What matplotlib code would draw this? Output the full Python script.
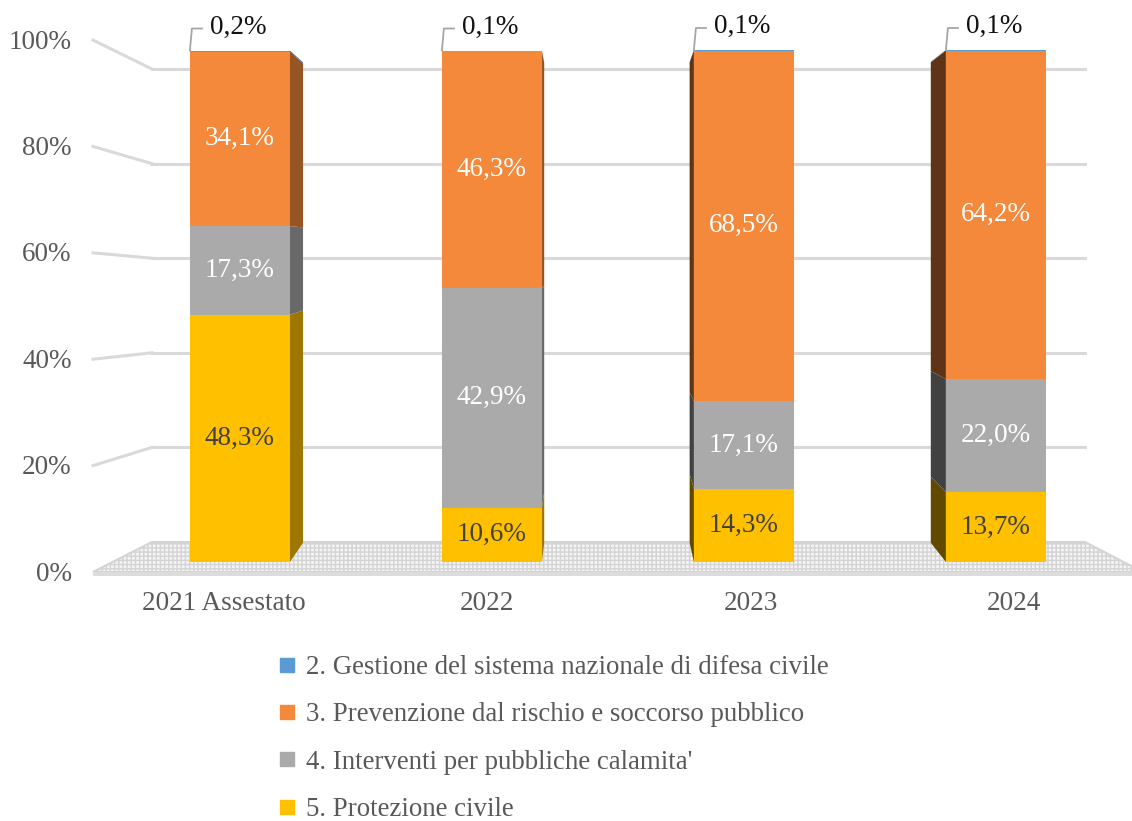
import matplotlib.pyplot as plt
from matplotlib.patches import Polygon
from matplotlib.lines import Line2D
import matplotlib.colors as mcolors
import numpy as np

plt.rcParams['font.family'] = ['Liberation Serif', 'DejaVu Serif']

categories = ['2021 Assestato', '2022', '2023', '2024']
series = ["2. Gestione del sistema nazionale di difesa civile",
          "3. Prevenzione dal rischio e soccorso pubblico",
          "4. Interventi per pubbliche calamita'",
          "5. Protezione civile"]
gestione = [0.2, 0.1, 0.1, 0.1]
prevenzione = [34.1, 46.3, 68.5, 64.2]
interventi = [17.3, 42.9, 17.1, 22.0]
protezione = [48.3, 10.6, 14.3, 13.7]
yticks = [0, 20, 40, 60, 80, 100]

colors = ['#5b9bd5', '#f4883b', '#aaaaaa', '#ffc000']
text_cols = [None, 'white', 'white', '#404040']

# fake perspective (data units of the front plane)
VX, KX = 1.4075, 0.957
VY, KY = 61.7, 0.939
WALL_X = (-0.349, 3.353)
EDGE_X = (-0.583, 3.583)
W = 0.397


def wall(g):
    return 3.906 + 0.9238 * g


def edge(g):
    return -1.953 + 1.039 * g


def back(x, y):
    return VX + KX * (x - VX), VY + KY * (y - VY)


fig = plt.figure(figsize=(11.32, 8.21), dpi=100)
ax = fig.add_axes([0, 0, 1, 1])
ax.set_xlim(-0.952, 3.540)
ax.set_ylim(-50.59, 109.77)
ax.axis('off')

# floor
floor = Polygon([(EDGE_X[0], edge(0)), (EDGE_X[1], edge(0)),
                 (WALL_X[1], wall(0)), (WALL_X[0], wall(0))],
                closed=True, facecolor='#f4f4f4', edgecolor='#d4d4d4',
                hatch='++++', lw=1.5, zorder=1)
ax.add_patch(floor)
ax.fill_between(EDGE_X, edge(0) - 0.7, edge(0), color='#dcdcdc', lw=0, zorder=1)

# gridlines on the wall and the left side
for g in yticks[1:]:
    ax.plot(WALL_X, [wall(g)] * 2, color='#d9d9d9', lw=2.2, zorder=0.5)
    ax.plot([EDGE_X[0], WALL_X[0]], [edge(g), wall(g)], color='#d9d9d9', lw=2.2, zorder=0.5)
for g in yticks:
    ax.text(-0.668, edge(g) - 0.4, f'{g}%', ha='right', va='center',
            fontsize=19.5, color='#595959')

x = np.arange(len(categories))
order = [protezione, interventi, prevenzione, gestione]
cols = [colors[3], colors[2], colors[1], colors[0]]
tcols = [text_cols[3], text_cols[2], text_cols[1], None]
bottom = np.zeros(len(categories))
for vals, c, tc in zip(order, cols, tcols):
    vals = np.array(vals)
    ax.bar(x, vals, W, bottom=bottom, color=c, lw=0, zorder=3)
    for i in range(len(categories)):
        xc = x[i]
        left_side = xc > VX
        xe = xc - W / 2 if left_side else xc + W / 2
        y0, y1 = bottom[i], bottom[i] + vals[i]
        bx0, by0 = back(xe, y0)
        bx1, by1 = back(xe, y1)
        f = 0.38 if left_side else 0.62
        dark = tuple(np.array(mcolors.to_rgb(c)) * f)
        ax.add_patch(Polygon([(xe, y0), (xe, y1), (bx1, by1), (bx0, by0)],
                             closed=True, facecolor=dark, lw=0, zorder=2))
        if tc is not None:
            ax.text(xc, y0 + vals[i] / 2, f'{vals[i]:.1f}%'.replace('.', ','),
                    ha='center', va='center', fontsize=19.5, color=tc, zorder=5)
    bottom = bottom + vals

# small top labels with leader lines
for i in range(len(categories)):
    xl = x[i] - W / 2
    top = bottom[i]
    ax.plot([xl, xl + 0.008, xl + 0.048], [top, top + 4.3, top + 4.3],
            color='#a6a6a6', lw=1.3, zorder=4)
    ax.text(xl + 0.08, top + 4.6, f'{gestione[i]:.1f}%'.replace('.', ','),
            ha='left', va='center', fontsize=19.5, color='#111111')

for i, cat in enumerate(categories):
    ax.text(VX + (x[i] - VX) / KX, -8.2, cat, ha='center', va='center',
            fontsize=19.5, color='#595959')

leg_handles = [Line2D([], [], marker='s', ls='none', markersize=9.5,
                      markerfacecolor=c, markeredgecolor=c) for c in colors]
fig.legend(leg_handles, series, loc='upper left', bbox_to_anchor=(0.233, 0.2185),
           frameon=False, fontsize=19.4, labelcolor='#595959', labelspacing=0.83,
           handlelength=0.7, handletextpad=0.36, borderpad=0)

fig.savefig('out.png', dpi=100)
